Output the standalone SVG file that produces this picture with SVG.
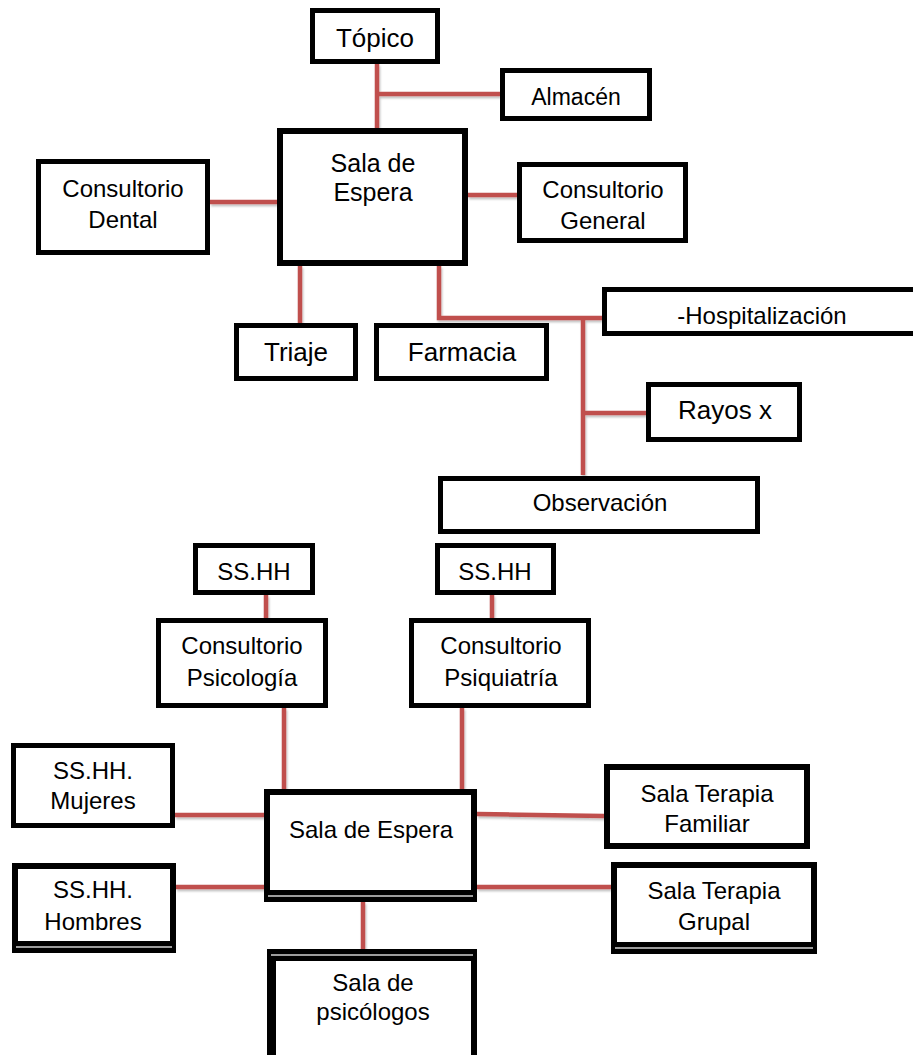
<svg xmlns="http://www.w3.org/2000/svg" width="913" height="1055" viewBox="0 0 913 1055">
<style>
.box{fill:#fff;stroke:#000;stroke-width:5}
.bx6{fill:#fff;stroke:#000;stroke-width:6}
.band{fill:#000}
.gap{stroke:#d0d0d0;stroke-width:1.3}
.t{font-family:"Liberation Sans",Arial,sans-serif;fill:#000;text-anchor:middle;font-size:24px}
.c{stroke:#C0504D;stroke-width:4.5;fill:none}
</style>
<defs>
<filter id="sh" x="-20%" y="-20%" width="140%" height="140%">
<feDropShadow dx="1" dy="2" stdDeviation="1" flood-color="#000" flood-opacity="0.25"/>
</filter>
</defs>
<rect width="913" height="1055" fill="#fff"/>
<g id="connectors" filter="url(#sh)">
<path class="c" d="M377,64 V128"/>
<path class="c" d="M377,94 H500"/>
<path class="c" d="M210,202 H277"/>
<path class="c" d="M468,195 H517"/>
<path class="c" d="M300,266 V323"/>
<path class="c" d="M439,266 V318 H602"/>
<path class="c" d="M583,318 V475"/>
<path class="c" d="M583,413 H646"/>
<path class="c" d="M266,595 V618"/>
<path class="c" d="M492,595 V618"/>
<path class="c" d="M284,708 V789"/>
<path class="c" d="M462,708 V789"/>
<path class="c" d="M175,815 H264"/>
<path class="c" d="M477,814 L604,816"/>
<path class="c" d="M176,887 H264"/>
<path class="c" d="M477,887 H611"/>
<path class="c" d="M363,902 V949"/>
</g>
<g id="topico"><rect class="box" x="312.5" y="10.5" width="125" height="51"/><text class="t" x="375" y="47" style="font-size:26px">Tópico</text></g>
<g id="almacen"><rect class="box" x="502.5" y="70.5" width="147" height="48"/><text class="t" x="576" y="105" style="font-size:23px">Almacén</text></g>
<g id="sala-espera-1"><rect class="bx6" x="280" y="131" width="185" height="132"/><text class="t" x="373" y="172" style="font-size:25px">Sala de</text><text class="t" x="373" y="201" style="font-size:25px">Espera</text></g>
<g id="consultorio-general"><rect class="box" x="519.5" y="164.5" width="166" height="76"/><text class="t" x="603" y="198">Consultorio</text><text class="t" x="603" y="229">General</text></g>
<g id="consultorio-dental"><rect class="box" x="38.5" y="161.5" width="169" height="91"/><text class="t" x="123" y="197">Consultorio</text><text class="t" x="123" y="228">Dental</text></g>
<g id="triaje"><rect class="box" x="236.5" y="325.5" width="119" height="53"/><text class="t" x="296" y="361" style="font-size:26px">Triaje</text></g>
<g id="farmacia"><rect class="box" x="376.5" y="325.5" width="170" height="53"/><text class="t" x="462" y="361" style="font-size:26px">Farmacia</text></g>
<g id="hospitalizacion"><rect class="box" x="604.5" y="289.5" width="330" height="44"/><text class="t" x="762" y="324">-Hospitalización</text></g>
<g id="rayos-x"><rect class="box" x="648.5" y="384.5" width="151" height="55"/><text class="t" x="725" y="419" style="font-size:26px">Rayos x</text></g>
<g id="observacion"><rect class="box" x="440.5" y="478.5" width="317" height="53"/><text class="t" x="600" y="511">Observación</text></g>
<g id="sshh-1"><rect class="box" x="195.5" y="545.5" width="117" height="47"/><text class="t" x="254" y="580">SS.HH</text></g>
<g id="sshh-2"><rect class="box" x="437.5" y="545.5" width="116" height="47"/><text class="t" x="495" y="580">SS.HH</text></g>
<g id="consultorio-psicologia"><rect class="box" x="158.5" y="620.5" width="167" height="85"/><text class="t" x="242" y="654">Consultorio</text><text class="t" x="242" y="686">Psicología</text></g>
<g id="consultorio-psiquiatria"><rect class="box" x="411.5" y="620.5" width="177" height="85"/><text class="t" x="501" y="654">Consultorio</text><text class="t" x="501" y="686">Psiquiatría</text></g>
<g id="sshh-mujeres"><rect class="box" x="13.5" y="745.5" width="159" height="80"/><text class="t" x="93" y="779">SS.HH.</text><text class="t" x="93" y="809">Mujeres</text></g>
<g id="sala-espera-2"><rect class="bx6" x="267" y="792" width="207" height="107"/><rect class="band" x="264" y="890" width="213" height="12"/><line class="gap" x1="268" y1="896" x2="473" y2="896"/><text class="t" x="371" y="838">Sala de Espera</text></g>
<g id="sala-terapia-familiar"><rect class="bx6" x="607" y="767" width="200" height="79"/><text class="t" x="707" y="802">Sala Terapia</text><text class="t" x="707" y="832">Familiar</text></g>
<g id="sshh-hombres"><rect class="bx6" x="15" y="866" width="158" height="84"/><rect class="band" x="12" y="941" width="164" height="12"/><line class="gap" x1="16" y1="947" x2="172" y2="947"/><text class="t" x="93" y="898">SS.HH.</text><text class="t" x="93" y="930">Hombres</text></g>
<g id="sala-terapia-grupal"><rect class="bx6" x="614" y="865" width="200" height="86"/><rect class="band" x="611" y="942" width="206" height="12"/><line class="gap" x1="615" y1="948" x2="813" y2="948"/><text class="t" x="714" y="899">Sala Terapia</text><text class="t" x="714" y="930">Grupal</text></g>
<g id="sala-psicologos"><rect class="bx6" x="270" y="952" width="204" height="120"/><rect class="band" x="267" y="949" width="210" height="12"/><rect class="band" x="267" y="949" width="9" height="110"/><line class="gap" x1="271" y1="955" x2="473" y2="955"/><text class="t" x="373" y="991">Sala de</text><text class="t" x="373" y="1020">psicólogos</text></g>
</svg>
